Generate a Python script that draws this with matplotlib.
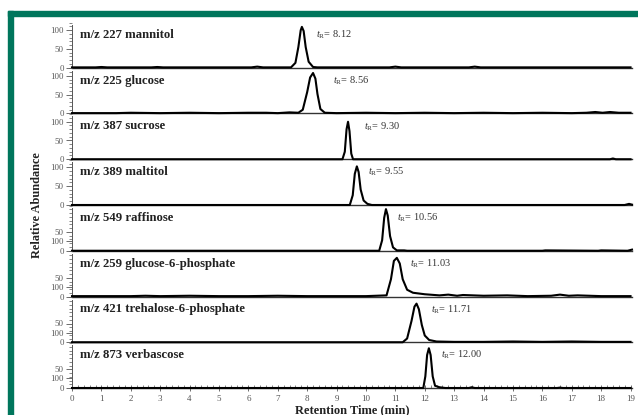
import matplotlib
matplotlib.use("Agg")
import matplotlib.pyplot as plt
from matplotlib.patches import Rectangle
from matplotlib.ticker import MultipleLocator, FixedLocator

plt.rcParams["font.family"] = ["Liberation Serif", "DejaVu Serif"]
plt.rcParams["mathtext.fontset"] = "custom"
plt.rcParams["mathtext.rm"] = "Liberation Serif"
plt.rcParams["mathtext.it"] = "Liberation Serif:italic"

# panel labels and retention times
LABELS = ["m/z 227 mannitol", "m/z 225 glucose", "m/z 387 sucrose", "m/z 389 maltitol",
          "m/z 549 raffinose", "m/z 259 glucose-6-phosphate",
          "m/z 421 trehalose-6-phosphate", "m/z 873 verbascose"]
TR_TEXT = ["8.12", "8.56", "9.30", "9.55", "10.56", "11.03", "11.71", "12.00"]
TR_POS = [8.30, 8.88, 9.93, 10.07, 11.05, 11.50, 12.20, 12.55]

# traces (time in min, relative abundance)
mannitol_x = [0, 0.8, 1.0, 1.2, 2.7, 2.9, 3.1, 6.1, 6.3, 6.5, 7.45, 7.6, 7.7, 7.78, 7.82,
              7.88, 7.95, 8.05, 8.2, 8.35, 10.8, 11.0, 11.2, 13.5, 13.7, 13.9, 19.0]
mannitol_y = [1, 1, 2, 1, 1, 2, 1, 1, 3, 1, 1, 13, 55, 100, 109, 98, 55, 16, 2, 1,
              1, 3, 1, 1, 3, 1, 1]

glucose_x = [0, 1.5, 2.0, 3.0, 4.0, 5.0, 6.0, 6.6, 7.0, 7.4, 7.7, 7.85, 8.0, 8.1, 8.2, 8.28,
             8.35, 8.45, 8.6, 9.0, 10.0, 11.0, 12.0, 13.0, 14.0, 15.0, 16.0, 17.0, 17.5,
             17.8, 18.05, 18.3, 18.6, 19.0]
glucose_y = [1, 1, 2, 1, 2, 1, 2, 2, 1, 3, 2, 10, 57, 96, 108, 93, 52, 12, 2, 1, 2, 1, 2, 1,
             2, 1, 2, 1, 2, 4, 2, 4, 2, 2]

sucrose_x = [0, 9.2, 9.28, 9.34, 9.39, 9.44, 9.5, 9.56, 18.3, 18.4, 18.5, 19.0]
sucrose_y = [0, 0, 20, 80, 100, 75, 15, 0, 0, 2, 0, 0]

maltitol_x = [0, 9.45, 9.55, 9.62, 9.69, 9.75, 9.82, 9.92, 10.05, 10.2, 18.8, 18.95, 19.05]
maltitol_y = [0, 0, 26, 83, 103, 88, 41, 12, 3, 0, 0, 3, 1]

raffinose_x = [0, 10.45, 10.55, 10.62, 10.68, 10.74, 10.82, 10.92, 11.05, 11.3, 11.4,
               16.0, 16.1, 17.9, 18.0, 18.9, 19.05]
raffinose_y = [0, 0, 28, 88, 111, 94, 39, 9, 1, 1, 0, 0, 1, 0, 1, 0, 3]

g6p_x = [0, 1.0, 2.0, 2.5, 3.0, 4.0, 5.0, 6.0, 7.0, 8.0, 9.0, 10.0, 10.7, 10.85, 10.95,
         11.05, 11.15, 11.25, 11.4, 11.6, 12.0, 12.5, 12.8, 13.1, 13.3, 14.0, 14.8, 15.5,
         16.3, 16.6, 16.9, 17.2, 17.6, 18.0, 19.0]
g6p_y = [1, 1, 1, 2, 1, 2, 1, 1, 2, 1, 1, 1, 3, 46, 95, 103, 88, 46, 18, 10, 6, 3, 5, 2,
         4, 2, 3, 1, 2, 5, 2, 3, 2, 1, 1]

t6p_x = [0, 11.25, 11.4, 11.55, 11.65, 11.72, 11.8, 11.9, 12.0, 12.15, 12.4, 13.0, 14.0,
         15.0, 16.0, 17.0, 18.0, 19.0]
t6p_y = [0, 0, 10, 57, 95, 103, 88, 46, 18, 6, 2, 1, 1, 2, 1, 2, 1, 1]

verba_x = [0, 11.95, 12.02, 12.08, 12.14, 12.2, 12.27, 12.35, 12.5, 12.7, 13.5, 13.6, 13.7,
           16.5, 16.6, 16.7, 19.0]
verba_y = [0, 0, 31, 88, 106, 88, 31, 6, 2, 0, 0, 2, 0, 0, 1, 0, 0]

TRACES = [(mannitol_x, mannitol_y), (glucose_x, glucose_y), (sucrose_x, sucrose_y),
          (maltitol_x, maltitol_y), (raffinose_x, raffinose_y), (g6p_x, g6p_y),
          (t6p_x, t6p_y), (verba_x, verba_y)]

# y tick labels: top four read 0/50/100, the lower four have the odd order of the original
TOP_TICKS = [0, 50, 100]
TOP_TICKLABELS = ["0", "50", "100"]
LOW_TICKS = [0, 26, 50]
LOW_TICKLABELS = ["0", "100", "50"]

GREEN = "#00765c"
GREY = "#555555"

fig = plt.figure(figsize=(6.38, 4.15), dpi=100)
fig.patches.append(Rectangle((8 / 638, 0), 5 / 638, 1 - 11 / 415, transform=fig.transFigure,
                             color=GREEN, zorder=0))
fig.patches.append(Rectangle((8 / 638, 1 - 16 / 415), 1, 5 / 415, transform=fig.transFigure,
                             color=GREEN, zorder=0))

left, right = 72 / 638, 632 / 638
top, bottom = 1 - 22 / 415, 1 - 388 / 415
n = len(LABELS)
h = (top - bottom) / n
axes = []
for i in range(n):
    ax = fig.add_axes([left, top - (i + 1) * h, right - left, h])
    ax.patch.set_alpha(0)
    xs, ys = TRACES[i]
    ax.plot(xs, ys, color="black", lw=1.5, solid_joinstyle="round", zorder=3, clip_on=False)
    ax.set_xlim(0, 19.05)
    ax.set_ylim(0, 122)
    for s in ["top", "right"]:
        ax.spines[s].set_visible(False)
    ax.spines["left"].set_color(GREY)
    ax.spines["left"].set_linewidth(0.7)
    ax.spines["left"].set_bounds(0, 114)
    ax.spines["bottom"].set_color("#333333")
    ax.spines["bottom"].set_linewidth(1.0)
    if i < 4:
        ax.yaxis.set_major_locator(FixedLocator(TOP_TICKS))
        ax.set_yticklabels(TOP_TICKLABELS)
    else:
        ax.yaxis.set_major_locator(FixedLocator(LOW_TICKS))
        ax.set_yticklabels(LOW_TICKLABELS)
    ax.yaxis.set_minor_locator(MultipleLocator(10))
    ax.tick_params(axis="y", which="major", direction="out", length=4, width=0.6,
                   color=GREY, labelsize=6.3, labelcolor=GREY, pad=2)
    ax.tick_params(axis="y", which="minor", direction="out", length=2.5, width=0.5, color=GREY)
    ax.xaxis.set_major_locator(MultipleLocator(1))
    ax.xaxis.set_minor_locator(MultipleLocator(0.2))
    if i < n - 1:
        ax.tick_params(axis="x", which="both", length=0, labelbottom=False)
    else:
        ax.tick_params(axis="x", which="major", direction="inout", length=4, width=0.6,
                       color=GREY, labelsize=6.5, labelcolor=GREY, pad=3)
        ax.tick_params(axis="x", which="minor", direction="in", length=2, width=0.5, color=GREY)
    ax.text(0.014, 0.72, LABELS[i], transform=ax.transAxes, fontsize=9.2,
            fontweight="bold", color="#222222", va="center", ha="left")
    ax.text(TR_POS[i], 0.72, r"$t_{\mathrm{R}}$= " + TR_TEXT[i], transform=ax.get_xaxis_transform(),
            fontsize=7.5, color="#333333", va="center", ha="left")
    axes.append(ax)

axes[-1].set_xlabel("Retention Time (min)", fontsize=9, fontweight="bold", color="#222222",
                    labelpad=1)
fig.text(37 / 638, 1 - 205 / 415, "Relative Abundance", rotation=90, fontsize=8.8,
         fontweight="bold", color="#222222", ha="center", va="center")

fig.savefig("out.png", dpi=100)
